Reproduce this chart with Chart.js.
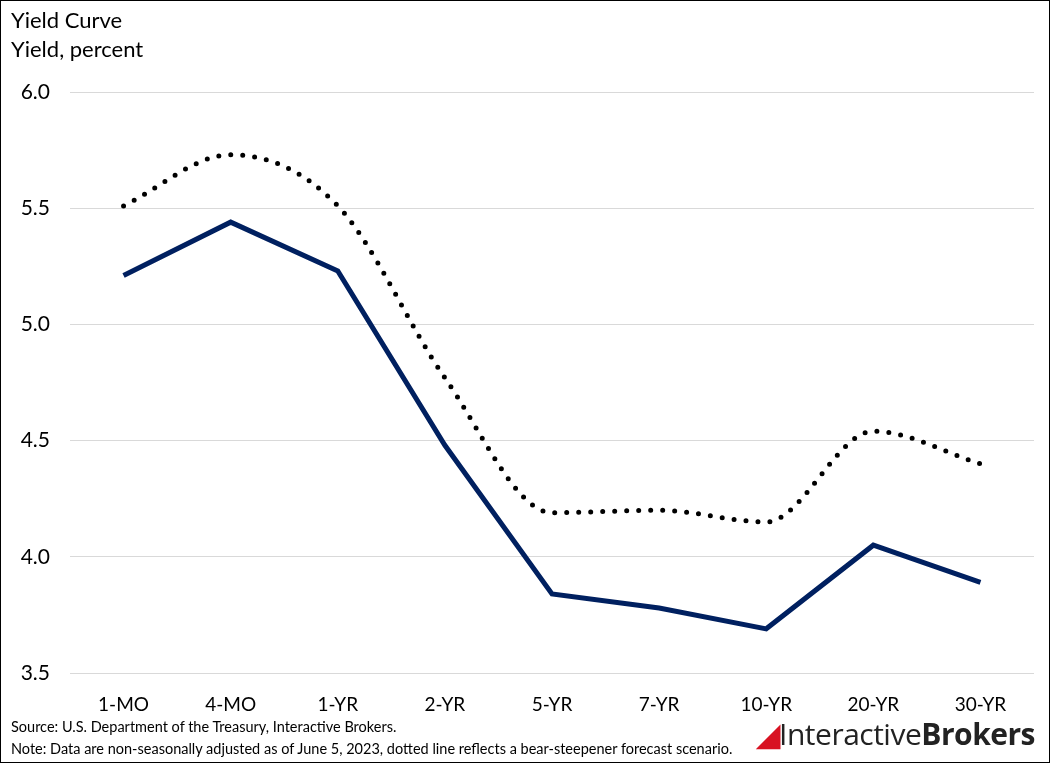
<!DOCTYPE html>
<html><head><meta charset="utf-8">
<script src="https://cdn.jsdelivr.net/npm/chart.js@4"></script>
<style>
body{margin:0;background:#fff;font-family:Lato,"Open Sans",sans-serif}
#wrap{position:absolute;left:0;top:0;width:1048px;height:761px;border:1px solid #000;}
#t{position:absolute;left:10px;top:4px;font-size:22px;line-height:29px;color:#000}
#c{position:absolute;left:0;top:0}
#src{position:absolute;left:10px;top:715px;font-size:14.5px;line-height:22px}
#logo{position:absolute;right:14px;top:712px;font-size:30px;font-family:"Open Sans",sans-serif;letter-spacing:-0.5px}
</style></head><body>
<div id="wrap">
<canvas id="c" width="1048" height="720"></canvas>
<div id="t">Yield Curve<br>Yield, percent</div>
<div id="src">Source: U.S. Department of the Treasury, Interactive Brokers.<br>Note: Data are non-seasonally adjusted as of June 5, 2023, dotted line reflects a bear-steepener forecast scenario.</div>
<div id="logo"><span style="color:#d81222;font-weight:bold">&#9698;</span><span style="color:#222">Interactive</span><span style="color:#222;font-weight:bold">Brokers</span></div>
</div>
<script>
const categories=["1-MO","4-MO","1-YR","2-YR","5-YR","7-YR","10-YR","20-YR","30-YR"];
const current=[5.21,5.44,5.23,4.48,3.84,3.78,3.69,4.05,3.89];
const forecast=[5.51,5.73,5.51,4.77,4.19,4.20,4.15,4.54,4.40];
new Chart(document.getElementById('c'),{type:'line',
data:{labels:categories,datasets:[
{data:forecast,borderColor:'#000',borderWidth:5,borderDash:[0,12],borderCapStyle:'round',cubicInterpolationMode:'monotone',pointRadius:0},
{data:current,borderColor:'#002060',borderWidth:5,tension:0,pointRadius:0}]},
options:{responsive:false,animation:false,layout:{padding:{top:91,right:15,left:0,bottom:0}},
plugins:{legend:{display:false},tooltip:{enabled:false}},
scales:{
x:{offset:true,grid:{display:false},border:{display:false},ticks:{color:'#000',font:{size:19,family:'Lato'},padding:12},afterFit:s=>{s.height=48}},
y:{min:3.5,max:6,ticks:{stepSize:0.5,color:'#000',font:{size:21,family:'Lato'},padding:20},grid:{color:'#d9d9d9',lineWidth:1,drawTicks:false},border:{display:false},afterFit:s=>{s.width=69}}
}}});
</script></body></html>
